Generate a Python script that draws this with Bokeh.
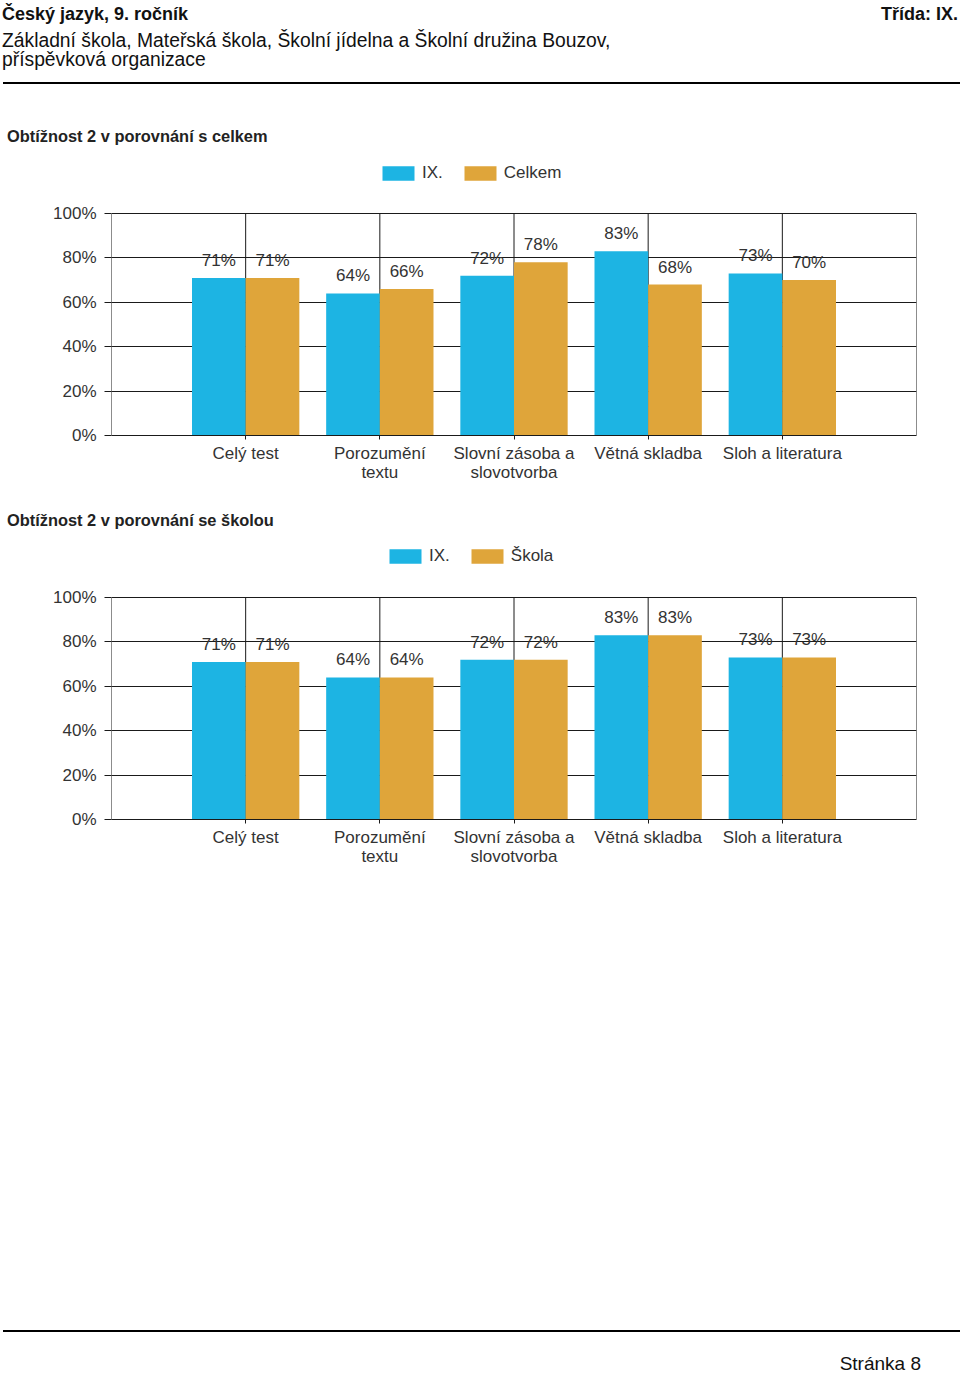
from bokeh.plotting import figure
from bokeh.models import (ColumnDataSource, Range1d, FixedTicker, LabelSet, Div,
                          Legend, LegendItem, PrintfTickFormatter)
from bokeh.layouts import column
from bokeh.transform import dodge
from bokeh.core.properties import value
from bokeh.embed import file_html
from bokeh.resources import INLINE

# ---------------- data ----------------
header_title = "Český jazyk, 9. ročník"
header_class = "Třída: IX."
header_school = ["Základní škola, Mateřská škola, Školní jídelna a Školní družina Bouzov,",
                 "příspěvková organizace"]
page_label = "Stránka 8"

chart_titles = ["Obtížnost 2 v porovnání s celkem", "Obtížnost 2 v porovnání se školou"]
categories = ["Celý test", "Porozumění\ntextu", "Slovní zásoba a\nslovotvorba",
              "Větná skladba", "Sloh a literatura"]
class_name = "IX."
class_values = [71, 64, 72, 83, 73]
total_name = "Celkem"
total_values = [71, 66, 78, 68, 70]
school_name = "Škola"
school_values = [71, 64, 72, 83, 73]
y_ticks = [0, 20, 40, 60, 80, 100]

FONT = "Liberation Sans"
BLUE = "#1DB4E3"
ORANGE = "#DFA53A"
GRID = "#1a1a1a"
TXT = "#333333"
W = 960

# layout (pixels)
FIG_H = 344
FRAME_H = 285
PLOT_H = 222          # pixel height of the 0..100 % band
BORDER_B = FIG_H - FRAME_H


def chart(a_name, a_vals, b_name, b_vals, legend_x, legend_y):
    pos = list(range(1, len(categories) + 1))
    n = len(categories) + 1
    src = ColumnDataSource(dict(
        x=pos, a=a_vals, b=b_vals,
        a_lab=[f"{v}%" for v in a_vals], b_lab=[f"{v}%" for v in b_vals]))
    ymax = y_ticks[-1]
    p = figure(width=W, height=FIG_H, x_range=Range1d(0, n),
               y_range=Range1d(0, ymax * FRAME_H / PLOT_H),
               output_backend="svg", toolbar_location=None, title=None,
               min_border_left=111, min_border_right=44,
               min_border_top=0, min_border_bottom=BORDER_B)
    p.outline_line_color = None
    p.background_fill_color = "white"

    # axes
    p.yaxis.ticker = FixedTicker(ticks=y_ticks)
    p.yaxis.formatter = PrintfTickFormatter(format="%d%%")
    p.yaxis.axis_line_color = None
    p.yaxis.major_tick_out = 7
    p.yaxis.major_tick_in = 0
    p.yaxis.minor_tick_out = 0
    p.yaxis.minor_tick_in = 0
    p.yaxis.major_label_standoff = 8
    p.xaxis.ticker = FixedTicker(ticks=pos)
    p.xaxis.major_label_overrides = {i: c for i, c in zip(pos, categories)}
    p.xaxis.axis_line_color = GRID
    p.xaxis.major_tick_out = 4
    p.xaxis.major_tick_in = 0
    p.xaxis.minor_tick_out = 0
    p.xaxis.minor_tick_in = 0
    p.xaxis.major_label_standoff = 4
    p.xaxis.major_label_text_line_height = 1.0
    for ax in (p.xaxis, p.yaxis):
        ax.major_tick_line_color = GRID
        ax.major_label_text_font = FONT
        ax.major_label_text_font_size = "17px"
        ax.major_label_text_color = TXT

    # grid: horizontal lines from the y ticks, vertical lines only over 0..100 %
    p.xgrid.visible = False
    p.ygrid.grid_line_color = GRID
    vx = list(range(0, n + 1))
    p.segment(x0=vx, y0=[0] * len(vx), x1=vx, y1=[ymax] * len(vx),
              line_color=GRID, line_width=1)

    ra = p.vbar(x=dodge("x", -0.2, range=p.x_range), top="a", width=0.4,
                source=src, fill_color=BLUE, line_color=None)
    rb = p.vbar(x=dodge("x", 0.2, range=p.x_range), top="b", width=0.4,
                source=src, fill_color=ORANGE, line_color=None)

    for fld, off, top in (("a_lab", -0.2, "a"), ("b_lab", 0.2, "b")):
        p.add_layout(LabelSet(x=dodge("x", off, range=p.x_range), y=top, text=fld,
                              source=src, y_offset=12, text_align="center",
                              text_baseline="alphabetic", text_font=value(FONT),
                              text_font_size="17px", text_color=TXT))

    legend = Legend(items=[LegendItem(label=a_name, renderers=[ra]),
                           LegendItem(label=b_name, renderers=[rb])],
                    orientation="horizontal", location=(legend_x, legend_y),
                    glyph_width=40, glyph_height=18, label_standoff=4, spacing=17,
                    padding=0, margin=0, border_line_color=None,
                    background_fill_alpha=0, label_text_font=FONT,
                    label_text_font_size="17px", label_text_color=TXT)
    p.add_layout(legend)
    return p


def txt(s, left=None, right=None, baseline=0, size=19, bold=False, color="#111"):
    top = baseline - 0.8465 * size
    pos = f"left:{left}px;" if left is not None else f"right:{right}px;"
    fw = "bold" if bold else "normal"
    return (f'<div style="position:absolute;{pos}top:{top:.1f}px;font-size:{size}px;'
            f'line-height:{size}px;font-weight:{fw};color:{color};white-space:nowrap;">{s}</div>')


def rule(left, top, width):
    return (f'<div style="position:absolute;left:{left}px;top:{top}px;width:{width}px;'
            f'height:2px;background:#000;"></div>')


def band(parts, height):
    html = (f'<div style="position:relative;width:{W}px;height:{height}px;'
            f"font-family:'{FONT}',Arial,sans-serif;margin:0;padding:0;\">"
            + "".join(parts) + "</div>")
    return Div(text=html, width=W, height=height, margin=0)


# header + first title (page y 0..150)
top_band = band([
    txt(header_title, left=2, baseline=20, size=18, bold=True),
    txt(header_class, right=2, baseline=20, size=18, bold=True),
    txt(header_school[0], left=2, baseline=47, size=19.3),
    txt(header_school[1], left=2, baseline=66, size=19.3),
    rule(3, 82, 957),
    txt(chart_titles[0], left=7, baseline=142, size=16.4, bold=True, color="#222"),
], 150)

c1 = chart(class_name, class_values, total_name, total_values, 267, 252)

mid_band = band([
    txt(chart_titles[1], left=7, baseline=526 - 494, size=16.4, bold=True, color="#222"),
], 40)

c2 = chart(class_name, class_values, school_name, school_values, 274, 253)

foot_band = band([
    rule(3, 1330 - 878, 957),
    txt(page_label, right=39, baseline=1370 - 878, size=19),
], 496)

page = column(top_band, c1, mid_band, c2, foot_band, spacing=0)

open("out.html", "w").write(file_html(page, INLINE))
